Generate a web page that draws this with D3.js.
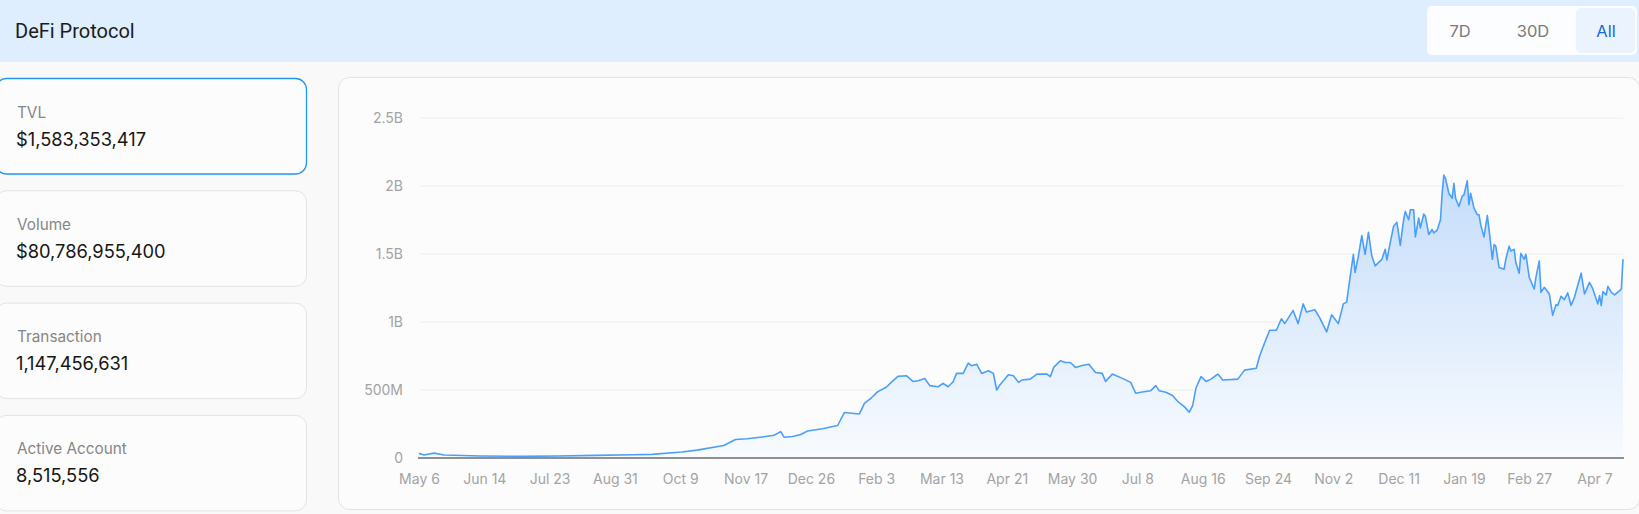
<!DOCTYPE html>
<html><head><meta charset="utf-8">
<script src="https://cdn.jsdelivr.net/npm/d3@7"></script>
<style>
html,body{margin:0;padding:0;background:#f9f9f9;overflow:hidden;}
svg{display:block;}
</style></head><body>
<svg id="c" width="1639" height="514"></svg>
<script>
const title = "DeFi Protocol";
const rangeButtons = ["7D", "30D", "All"];
const activeRange = "All";
const statLabels = ["TVL", "Volume", "Transaction", "Active Account"];
const statValues = ["$1,583,353,417", "$80,786,955,400", "1,147,456,631", "8,515,556"];
const startDate = "2023-05-06";
const lastDay = 719;
const dayOffsets = [0,3,9,15,37,60,83,105,128,139,157,166,182,189,196,205,212,216,218,223,228,232,241,250,254,263,266,270,274,279,282,286,291,295,298,302,305,310,313,316,319,321,325,328,330,333,336,340,343,345,347,352,355,358,360,365,369,375,377,379,383,386,389,392,396,400,404,408,410,414,421,425,428,431,437,440,442,446,450,453,457,460,462,464,467,470,473,477,480,489,493,500,502,505,508,512,515,517,522,525,528,530,535,538,542,545,549,552,554,556,558,559,561,563,565,567,569,571,575,577,578,580,582,584,586,588,589,591,592,594,595,597,598,600,601,603,605,606,608,610,611,612,613,615,617,618,619,621,623,624,626,627,628,630,632,633,634,636,638,639,641,642,643,645,648,649,651,652,654,655,657,658,660,661,663,666,667,669,670,672,675,677,679,680,682,684,686,688,690,694,696,699,701,704,705,706,707,709,710,712,714,717,718,719];
const tvlMillions = [34,22,36,22,15,12,15,19,24,27,44,58,92,136,141,155,167,194,153,158,173,198,215,239,334,324,402,441,488,520,556,600,605,563,568,585,532,524,549,524,561,622,622,698,678,690,622,641,622,500,539,612,605,556,573,580,617,617,598,666,715,702,702,666,680,690,629,622,563,617,580,556,476,483,495,532,495,483,459,417,378,337,385,515,598,563,580,617,573,580,646,660,750,847,939,939,1024,988,1085,988,1133,1073,1090,1029,927,1053,988,1133,1146,1328,1498,1364,1485,1636,1498,1660,1485,1413,1461,1534,1456,1583,1704,1733,1563,1752,1813,1752,1825,1825,1626,1765,1692,1794,1777,1643,1680,1655,1675,1752,1947,2080,2056,1947,1910,2019,1910,1850,1927,1934,2039,1862,1947,1837,1789,1789,1716,1626,1782,1680,1461,1570,1558,1400,1388,1461,1558,1522,1534,1437,1359,1505,1461,1498,1328,1243,1328,1449,1218,1255,1206,1049,1126,1121,1189,1165,1214,1121,1182,1359,1206,1291,1243,1133,1194,1121,1223,1199,1262,1218,1199,1231,1243,1461];
const yTicks = [0, 500e6, 1e9, 1.5e9, 2e9, 2.5e9];
const yTickLabels = ["0", "500M", "1B", "1.5B", "2B", "2.5B"];
const xTickDates = ["2023-05-06","2023-06-14","2023-07-23","2023-08-31","2023-10-09","2023-11-17","2023-12-26","2024-02-03","2024-03-13","2024-04-21","2024-05-30","2024-07-08","2024-08-16","2024-09-24","2024-11-02","2024-12-11","2025-01-19","2025-02-27","2025-04-07"];

const FONT = "Inter, 'Noto Sans', sans-serif";
const svg = d3.select("#c");

// header
svg.append("rect").attr("x", -6).attr("y", 0).attr("width", 1651).attr("height", 62).attr("rx", 4).attr("fill", "#dfeefe");
svg.append("text").attr("x", 15).attr("y", 38).attr("font-family", "Roboto, 'Noto Sans', sans-serif")
  .attr("font-size", 20).attr("fill", "#1b1b1b").text(title);

// range buttons
svg.append("rect").attr("x", 1427).attr("y", 6).attr("width", 210).attr("height", 49).attr("rx", 5).attr("fill", "#fcfdff");
const btnCenters = [1460, 1533, 1606];
rangeButtons.forEach((b, i) => {
  if (b === activeRange) {
    svg.append("rect").attr("x", btnCenters[i] - 30).attr("y", 8).attr("width", 59).attr("height", 45).attr("rx", 5).attr("fill", "#ebf4fe");
  }
  svg.append("text").attr("x", btnCenters[i]).attr("y", 37).attr("text-anchor", "middle")
    .attr("font-family", FONT).attr("font-size", 16.5)
    .attr("fill", b === activeRange ? "#1668dc" : "#7a7a7a").text(b);
});

// stat cards
statLabels.forEach((lab, i) => {
  const top = 78 + i * 112.3;
  svg.append("rect").attr("x", -4.5).attr("y", top + 0.5).attr("width", 311).attr("height", 95.5).attr("rx", 11)
    .attr("fill", "#fcfcfc").attr("stroke", i === 0 ? "#2196f3" : "#e3e3e3").attr("stroke-width", i === 0 ? 1.3 : 1);
  svg.append("text").attr("x", 17).attr("y", top + 39.5).attr("font-family", FONT).attr("font-size", 15.3)
    .attr("fill", "#868686").text(lab);
  svg.append("text").attr("x", 16).attr("y", top + 67.5).attr("font-family", FONT).attr("font-size", 18.3)
    .attr("fill", "#161616").text(statValues[i]);
});

// chart card
svg.append("rect").attr("x", 338.5).attr("y", 77.5).attr("width", 1301).attr("height", 432).attr("rx", 11)
  .attr("fill", "#fcfcfc").attr("stroke", "#e3e3e3");

const parse = d3.utcParse("%Y-%m-%d");
const t0 = parse(startDate);
const data = dayOffsets.map((d, i) => ({ date: d3.utcDay.offset(t0, d), v: tvlMillions[i] * 1e6 }));

const x = d3.scaleUtc().domain([t0, d3.utcDay.offset(t0, lastDay)]).range([419, 1623]);
const y = d3.scaleLinear().domain([0, 2.5e9]).range([458, 118]);

// grid
svg.append("g").selectAll("line").data(yTicks.slice(1)).join("line")
  .attr("x1", 419).attr("x2", 1623).attr("y1", d => y(d)).attr("y2", d => y(d))
  .attr("stroke", "#eeeeee").attr("stroke-width", 1.2);

// gradient
const defs = svg.append("defs");
const grad = defs.append("linearGradient").attr("id", "ag").attr("gradientUnits", "userSpaceOnUse")
  .attr("x1", 0).attr("x2", 0).attr("y1", y(2.1e9)).attr("y2", y(0));
grad.append("stop").attr("offset", 0).attr("stop-color", "#c4dcfa");
grad.append("stop").attr("offset", 1).attr("stop-color", "#f8fbff");

const area = d3.area().x(d => x(d.date)).y0(y(0)).y1(d => y(d.v));
const line = d3.line().x(d => x(d.date)).y(d => y(d.v));
svg.append("path").datum(data).attr("d", area).attr("fill", "url(#ag)");
svg.append("path").datum(data).attr("d", line).attr("fill", "none").attr("stroke", "#4a9ffb").attr("stroke-width", 1.6).attr("stroke-linejoin", "round");

// y axis
const yAxis = svg.append("g").attr("transform", "translate(419,0)")
  .call(d3.axisLeft(y).tickValues(yTicks).tickFormat((d, i) => yTickLabels[i]).tickSize(0).tickPadding(16));
yAxis.select(".domain").remove();
yAxis.selectAll("text").attr("font-family", FONT).attr("font-size", 14).attr("fill", "#a3a3a3");

// x axis
const xAxis = svg.append("g").attr("transform", "translate(0,458)")
  .call(d3.axisBottom(x).tickValues(xTickDates.map(parse)).tickFormat(d3.utcFormat("%b %-d")).tickSize(0).tickPadding(16));
xAxis.select(".domain").remove();
xAxis.selectAll("text").attr("font-family", FONT).attr("font-size", 14).attr("fill", "#a3a3a3");
svg.append("line").attr("x1", 418).attr("x2", 1624).attr("y1", 458).attr("y2", 458).attr("stroke", "#6d6d6d").attr("stroke-width", 1.5);
</script>
</body></html>
